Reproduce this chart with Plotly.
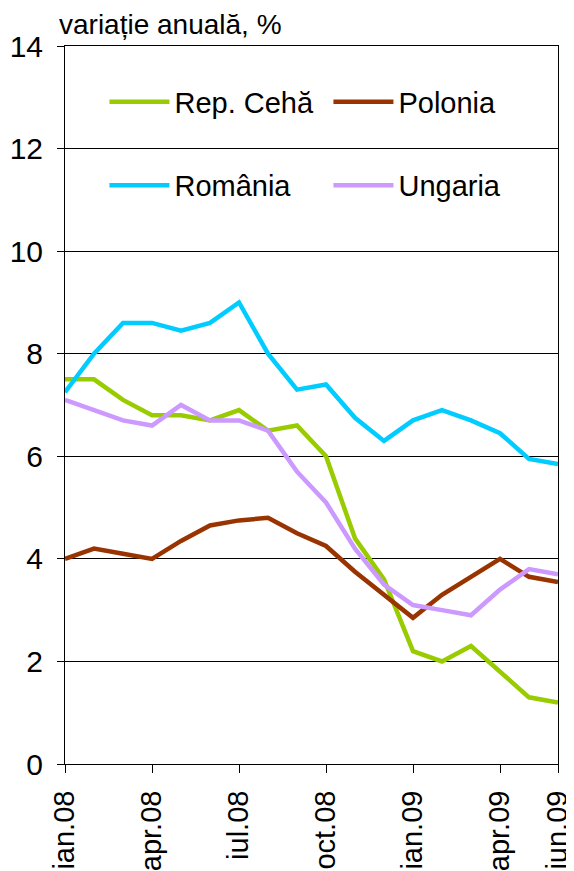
import plotly.graph_objects as go

months = ["ian.08", "feb.08", "mar.08", "apr.08", "mai.08", "iun.08", "iul.08", "aug.08", "sep.08",
          "oct.08", "nov.08", "dec.08", "ian.09", "feb.09", "mar.09", "apr.09", "mai.09", "iun.09"]
tick_labels = ["ian.08", "apr.08", "iul.08", "oct.08", "ian.09", "apr.09", "iun.09"]

rep_ceha = [7.5, 7.5, 7.1, 6.8, 6.8, 6.7, 6.9, 6.5, 6.6, 6.0, 4.4, 3.6, 2.2, 2.0, 2.3, 1.8, 1.3, 1.2]
polonia = [4.0, 4.2, 4.1, 4.0, 4.35, 4.65, 4.75, 4.8, 4.5, 4.25, 3.75, 3.3, 2.85, 3.3, 3.65, 4.0, 3.65, 3.55]
romania = [7.25, 8.0, 8.6, 8.6, 8.45, 8.6, 9.0, 8.0, 7.3, 7.4, 6.75, 6.3, 6.7, 6.9, 6.7, 6.45, 5.95, 5.85]
ungaria = [7.1, 6.9, 6.7, 6.6, 7.0, 6.7, 6.7, 6.5, 5.7, 5.1, 4.2, 3.5, 3.1, 3.0, 2.9, 3.4, 3.8, 3.7]

series = [
    ("Rep. Cehă", rep_ceha, "#99CC00", "legend"),
    ("Polonia", polonia, "#993300", "legend"),
    ("România", romania, "#00CCFF", "legend2"),
    ("Ungaria", ungaria, "#CC99FF", "legend2"),
]

FONT = "Liberation Sans, Arial, sans-serif"

fig = go.Figure()
for name, vals, color, leg in series:
    fig.add_trace(go.Scatter(x=months, y=vals, name=name, mode="lines",
                             line=dict(color=color, width=4.5), legend=leg))

legend_common = dict(orientation="h", bgcolor="rgba(0,0,0,0)", borderwidth=0,
                     font=dict(family=FONT, size=29, color="black"),
                     entrywidthmode="pixels", entrywidth=149, itemwidth=60,
                     xanchor="left", yanchor="middle")

fig.update_layout(
    width=566, height=863,
    margin=dict(l=57, r=16, t=38, b=107),
    paper_bgcolor="white", plot_bgcolor="white",
    font=dict(family=FONT, size=30, color="black"),
    showlegend=True,
    legend=dict(x=0.08, y=0.922, **legend_common),
    legend2=dict(x=0.08, y=0.806, **legend_common),
    xaxis=dict(type="category", range=[0, 17], tickmode="array",
               tickvals=tick_labels, ticktext=tick_labels, tickangle=-90,
               showline=True, linecolor="black", linewidth=1, mirror=True,
               ticks="outside", ticklen=8, tickcolor="black",
               showgrid=False, zeroline=False, automargin=False,
               ticklabelstandoff=6,
               tickfont=dict(family=FONT, size=29, color="black")),
    yaxis=dict(range=[0, 14], dtick=2, showline=True, linecolor="black", linewidth=1,
               mirror=True, ticks="outside", ticklen=7, tickcolor="black",
               showgrid=True, gridcolor="black", gridwidth=1, zeroline=False,
               ticklabelstandoff=8, automargin=False,
               tickfont=dict(family=FONT, size=30, color="black")),
    shapes=[dict(type="rect", xref="paper", yref="y", x0=0.071, x1=0.923, y0=11.5, y1=12.5,
                 fillcolor="white", line=dict(width=0), layer="between")],
    annotations=[dict(text="variație anuală, %", xref="paper", yref="paper",
                      x=-0.016, y=1.0295, xanchor="left", yanchor="middle", showarrow=False,
                      font=dict(family=FONT, size=28, color="black"))],
)

fig.write_html("out.html")
